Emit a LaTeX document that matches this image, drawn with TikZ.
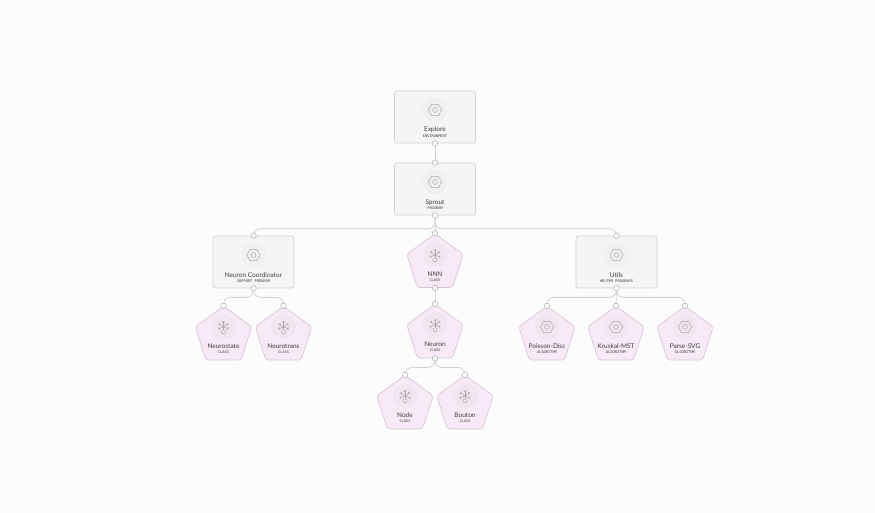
\documentclass[tikz,border=0pt]{standalone}
\usepackage{fontspec}
\setmainfont{Lato}
\setmonofont{DejaVu Sans Mono}
\usetikzlibrary{shapes.geometric}
\definecolor{pagebg}{RGB}{252,252,252}
\definecolor{boxfill}{RGB}{245,245,245}
\definecolor{boxline}{RGB}{210,210,210}
\definecolor{pentfill}{RGB}{248,233,246}
\definecolor{pentline}{RGB}{216,198,214}
\definecolor{wirecol}{RGB}{212,212,212}
\definecolor{inkcol}{RGB}{62,62,68}
\tikzset{
  progbox/.style={draw=boxline,fill=boxfill,line width=0.7pt,rounded corners=2.5pt,minimum width=81pt,minimum height=52pt,inner sep=0pt},
  classpent/.style={draw=pentline,fill=pentfill,line width=0.7pt,rounded corners=3pt,regular polygon,regular polygon sides=5,minimum size=59.5pt,inner sep=0pt},
  title/.style={font=\fontsize{6.5}{7}\selectfont,text=inkcol,inner sep=0pt},
  kind/.style={font=\ttfamily\fontsize{3.65}{4}\selectfont,text=inkcol,inner sep=0pt},
  wire/.style={draw=wirecol,line width=0.8pt,rounded corners=7pt},
  port/.style={circle,draw=black!32,fill=white,line width=0.5pt,minimum size=5.5pt,inner sep=0pt},
  halo/.style={circle,minimum size=25pt,inner sep=0pt,fill=black,fill opacity=0.02},
  icon/.style={draw=black!34,line width=0.5pt}
}
% hexagon glyph and spoked glyph
\newcommand{\hexglyph}[1]{%
  \node[halo] at (#1) {};
  \draw[icon,shift={(#1)}] (0:6.6)--(60:6.6)--(120:6.6)--(180:6.6)--(240:6.6)--(300:6.6)--cycle;
  \draw[icon,shift={(#1)}] (0,0) circle (2.4);
}
\newcommand{\spokeglyph}[1]{%
  \node[halo] at (#1) {};
  \foreach \a in {20,160,215,270,325} {
    \draw[icon,shift={(#1)}] (0,0)--(\a:6);
    \draw[icon,shift={(#1)}] (\a:4)--++(\a+45:1.8);
    \draw[icon,shift={(#1)}] (\a:4)--++(\a-45:1.8);
  }
  \draw[icon,shift={(#1)}] (0,0)--(0,3);
  \draw[icon,fill=pentfill,shift={(#1)}] (0,4.8) circle (2);
}
\begin{document}
\begin{tikzpicture}[x=1pt,y=-1pt]
  \fill[pagebg] (0,0) rectangle (875,513);
  \useasboundingbox (0,0) rectangle (875,513);
  % program boxes
  \foreach \nm/\x/\y in {Explore/435/117,Sprout/435/189,Coordinator/253.5/262,Utils/616.5/262}
    \node[progbox] (\nm) at (\x,\y) {};
  % class pentagons
  \foreach \nm/\x/\y in {NNN/435/263.5,Neuron/435/334,Neurostate/223.5/336,Neurotrans/283.5/336,NodeC/405/405,Bouton/465/405,Poisson/547/336,Kruskal/616/336,ParseSVG/685/336}
    \node[classpent] (\nm) at (\x,\y) {};
  % connectors
  \draw[wire] (Explore.south)--(Sprout.north);
  \draw[wire] (Sprout.south)--(NNN.north);
  \draw[wire] (Sprout.south)--++(0,13.5) -| (Coordinator.north);
  \draw[wire] (Sprout.south)--++(0,13.5) -| (Utils.north);
  \draw[wire] (Coordinator.south)--++(0,9) -| (Neurostate.north);
  \draw[wire] (Coordinator.south)--++(0,9) -| (Neurotrans.north);
  \draw[wire] (NNN.south)--(Neuron.north);
  \draw[wire] (Neuron.south)--++(0,9) -| (NodeC.north);
  \draw[wire] (Neuron.south)--++(0,9) -| (Bouton.north);
  \draw[wire] (Utils.south)--++(0,9) -| (Poisson.north);
  \draw[wire] (Utils.south)--(Kruskal.north);
  \draw[wire] (Utils.south)--++(0,9) -| (ParseSVG.north);
  % ports
  \foreach \nm in {Explore,Sprout,Coordinator,Utils,NNN,Neuron} \node[port] (\nm-out) at (\nm.south) {};
  \foreach \nm in {Sprout,Coordinator,Utils,NNN,Neuron,Neurostate,Neurotrans,NodeC,Bouton,Poisson,Kruskal,ParseSVG} \node[port] (\nm-in) at (\nm.north) {};
  % glyphs
  \hexglyph{435,110}
  \hexglyph{435,182}
  \hexglyph{253.5,255}
  \hexglyph{616.5,255}
  \hexglyph{547,327}
  \hexglyph{616,327}
  \hexglyph{685,327}
  \spokeglyph{435,255}
  \spokeglyph{435,325}
  \spokeglyph{223.5,327}
  \spokeglyph{283.5,327}
  \spokeglyph{405,396}
  \spokeglyph{465,396}
  % labels
  \foreach \nm/\x/\y/\ttl/\knd in {
    l1/435/130/Explore/ENVIRONMENT,
    l2/435/202.5/Sprout/PROGRAM,
    l3/253.5/275/Neuron Coordinator/SUPPORT PROGRAM,
    l4/616.5/275/Utils/HELPER PROGRAMS,
    l5/435/274.5/NNN/CLASS,
    l6/435/344.5/Neuron/CLASS,
    l7/223.5/346.5/Neurostate/CLASS,
    l8/283.5/346.5/Neurotrans/CLASS,
    l9/405/415/Node/CLASS,
    l10/465/415/Bouton/CLASS,
    l11/547/346.5/Poisson-Disc/ALGORITHM,
    l12/616/346.5/Kruskal-MST/ALGORITHM,
    l13/685/346.5/Parse-SVG/ALGORITHM}
  {
    \node[title] (\nm) at (\x,\y) {\ttl};
    \node[kind] (\nm-k) at (\x,\y+5.7) {\knd};
  }
\end{tikzpicture}
\end{document}
